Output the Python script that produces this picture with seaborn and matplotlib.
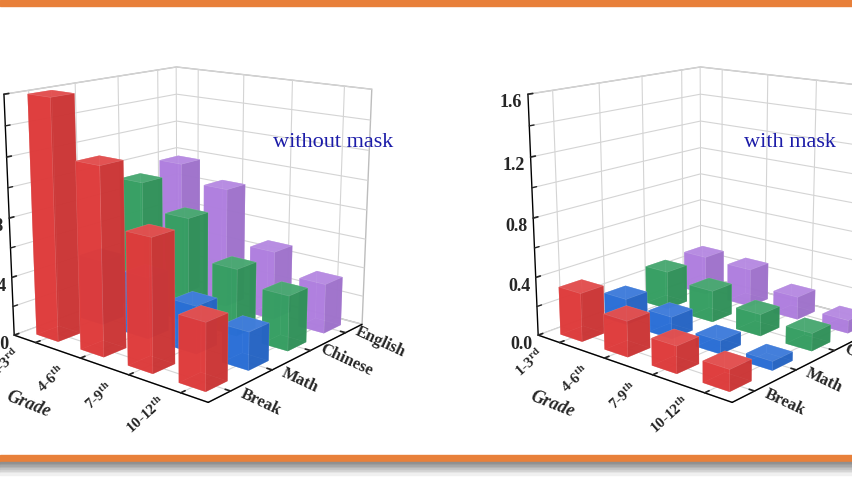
import numpy as np
import pandas as pd
import matplotlib
matplotlib.use("Agg")
import matplotlib.pyplot as plt
import matplotlib.colors as mcolors
from matplotlib.ticker import MultipleLocator
import seaborn as sns
from matplotlib.patches import Rectangle

# ---------------- data ----------------
grades = ["1-3$^{\\mathrm{rd}}$", "4-6$^{\\mathrm{th}}$", "7-9$^{\\mathrm{th}}$", "10-12$^{\\mathrm{th}}$"]
subjects = ["Break", "Math", "Chinese", "English"]

break_without = [1.60, 1.23, 0.86, 0.43]
math_without = [0.45, 0.42, 0.32, 0.25]
chinese_without = [0.91, 0.73, 0.46, 0.37]
english_without = [0.97, 0.85, 0.48, 0.34]

break_with = [0.33, 0.24, 0.18, 0.14]
math_with = [0.18, 0.15, 0.09, 0.06]
chinese_with = [0.27, 0.22, 0.15, 0.12]
english_with = [0.28, 0.27, 0.16, 0.09]

z_ticks = [0.0, 0.4, 0.8, 1.2, 1.6]
z_labels = ["0.0", "0.4", "0.8", "1.2", "1.6"]
panel_titles = ["without mask", "with mask"]

rows = []
for panel, series in [("without mask", [break_without, math_without, chinese_without, english_without]),
                      ("with mask", [break_with, math_with, chinese_with, english_with])]:
    for s_i, vals in enumerate(series):
        for g_i, v in enumerate(vals):
            rows.append(dict(panel=panel, grade=g_i, subject=s_i, value=v))
df = pd.DataFrame(rows)

# ---------------- style ----------------
sns.set_theme(style="white")
plt.rcParams["font.family"] = ["Liberation Serif", "DejaVu Serif"]
plt.rcParams["mathtext.fontset"] = "custom"
plt.rcParams["mathtext.rm"] = "Liberation Serif:bold"
plt.rcParams["mathtext.it"] = "Liberation Serif:bold"
plt.rcParams["mathtext.bf"] = "Liberation Serif:bold"
plt.rcParams["grid.color"] = "#d4d4d4"
plt.rcParams["grid.linewidth"] = 0.8
palette = sns.color_palette(["#e03c3c", "#2a6fd8", "#36a063", "#b07fe0"])


def scale(c, f):
    r, g, b = mcolors.to_rgb(c)
    if f >= 1:
        return (r + (1 - r) * (f - 1), g + (1 - g) * (f - 1), b + (1 - b) * (f - 1))
    return (r * f, g * f, b * f)


fig = plt.figure(figsize=(8.52, 4.79), dpi=100)
fig.patch.set_facecolor("white")

positions = [[-0.094, 0.05, 0.62, 0.98], [0.521, 0.05, 0.62, 0.98]]
text_pos = [(333, 142), (790, 142)]
w = 0.5
alpha = 0.86

for idx, panel in enumerate(panel_titles):
    ax = fig.add_axes(positions[idx], projection="3d")
    ax.set_proj_type("persp", focal_length=0.45)
    ax.view_init(elev=15, azim=-50)
    sub = df[df.panel == panel]
    xs = sub.grade.to_numpy() - w / 2
    ys = sub.subject.to_numpy() - w / 2
    dz = sub.value.to_numpy()
    face_cols = []
    for s in sub.subject:
        c = palette[s]
        # order: -z, +z, -y, +y, -x, +x
        for f in (0.9, 1.12, 1.0, 0.95, 0.95, 0.9):
            face_cols.append(scale(c, f) + (alpha,))
    ax.bar3d(xs, ys, np.zeros_like(dz), w, w, dz, color=face_cols,
             shade=False, edgecolor=(1, 1, 1, 0.12), linewidth=0.4)
    ax.set_xlim(-0.5, 3.5)
    ax.set_ylim(-0.5, 3.5)
    ax.set_zlim(0, 1.6)
    ax.set_box_aspect((1, 1, 0.97), zoom=0.9)

    ax.set_xticks(range(len(grades)))
    ax.set_xticklabels(grades, rotation=42, fontweight="bold", fontsize=11,
                       ha="right", va="center")
    ax.set_yticks(range(len(subjects)))
    ax.set_yticklabels(subjects, rotation=-25, fontweight="bold", fontsize=12,
                       ha="left", va="center")
    ax.yaxis.set_tick_params(pad=-2)
    ax.set_zticks(z_ticks)
    ax.set_zticklabels(z_labels, fontweight="bold", fontsize=13)
    ax.zaxis.set_minor_locator(MultipleLocator(0.2))
    ax.zaxis.set_ticks_position("lower")
    ax.zaxis.set_tick_params(pad=0)
    ax.set_xlabel("")
    ax.set_ylabel("")
    ax.set_zlabel("")
    ax.text(1.65, -2.15, 0, "Grade", zdir="x", fontweight="bold", fontstyle="italic",
            fontsize=13, ha="center", va="center")

    for axis in (ax.xaxis, ax.yaxis, ax.zaxis):
        axis.set_pane_color((1, 1, 1, 1))
        axis.pane.set_edgecolor("#bdbdbd")
        axis.line.set_color("black")
        axis.line.set_linewidth(1.0)
        axis._axinfo["grid"]["color"] = "#d4d4d4"
        axis._axinfo["grid"]["linewidth"] = 0.8
        axis._axinfo["tick"]["inward_factor"] = 0.0
        axis._axinfo["tick"]["outward_factor"] = 0.3
    ax.grid(True)

    fig.text(text_pos[idx][0] / 852, 1 - text_pos[idx][1] / 479, panel,
             color="#1c1ca8", fontsize=16, ha="center", va="center")

# frame bands
fig.add_artist(Rectangle((0, 1 - 6 / 479), 1, 6 / 479, transform=fig.transFigure,
                         color="#e8803a", zorder=10))
fig.add_artist(Rectangle((0, 1 - 462 / 479), 1, 7 / 479, transform=fig.transFigure,
                         color="#e8803a", zorder=10))
greys = ["#8f8f8f", "#9a9a9a", "#a6a6a6", "#b3b3b3", "#c2c2c2", "#d2d2d2", "#e2e2e2", "#f0f0f0"]
for i, g in enumerate(greys):
    y0 = 462 + i * 1.6
    fig.add_artist(Rectangle((0, 1 - (y0 + 1.6) / 479), 1, 1.6 / 479,
                             transform=fig.transFigure, color=g, zorder=10))

fig.savefig("out.png", dpi=100)
